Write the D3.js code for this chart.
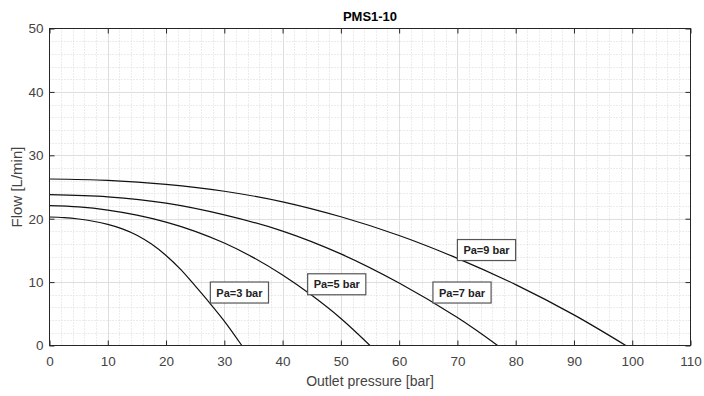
<!DOCTYPE html>
<html><head><meta charset="utf-8">
<script src="https://cdn.jsdelivr.net/npm/d3@7"></script>
<style>
body{margin:0;background:#fff}
svg{display:block}
text{font-family:"Liberation Sans",Arial,Helvetica,sans-serif}
</style>
</head><body>
<svg id="c" width="704" height="396"></svg>
<script>
// ---- data ----
const titleText = "PMS1-10";
const xLabel = "Outlet pressure [bar]";
const yLabel = "Flow [L/min]";
const xTicks = [0,10,20,30,40,50,60,70,80,90,100,110];
const yTicks = [0,10,20,30,40,50];
const xMinor = d3.range(0,111,2);
const yMinor = d3.range(0,51,2);

const pa3X = [0,2.5,5,7.5,10,12.5,15,17.5,20,22.5,25,27.5,30,33];
const pa3Y = [20.27,20.18,19.95,19.6,19.1,18.4,17.4,16.0,14.2,12.0,9.4,6.7,3.85,0];

const pa5X = [0,5,10,15,20,25,30,35,40,45,50,55];
const pa5Y = [22.06,21.86,21.36,20.56,19.46,18.01,16.16,13.86,11.11,7.91,4.26,0];

const pa7X = [0,10,20,30,40,50,60,70,76.9];
const pa7Y = [23.8,23.45,22.45,20.6,18.05,14.45,9.85,4.4,0];

const pa9X = [0,10,20,30,40,50,60,70,80,90,98.9];
const pa9Y = [26.26,26.05,25.42,24.33,22.66,20.3,17.35,13.75,9.6,4.83,0];

const seriesX = [pa3X,pa5X,pa7X,pa9X];
const seriesY = [pa3Y,pa5Y,pa7Y,pa9Y];

const labelText = ["Pa=3 bar","Pa=5 bar","Pa=7 bar","Pa=9 bar"];
const labelX = [27.6,44.3,65.8,70.0];
const labelY = [6.7,8.0,6.7,13.4];

// ---- drawing ----
const svg = d3.select("#c");
const L = 49.5, R = 690.5, T = 28.5, B = 345.5;
const x = d3.scaleLinear().domain([0,110]).range([L,R]);
const y = d3.scaleLinear().domain([0,50]).range([B,T]);

svg.append("rect").attr("width",704).attr("height",396).attr("fill","#fff");

// minor grid
const gMinor = svg.append("g");
gMinor.selectAll("line.mx").data(xMinor.filter(v=>v%10!==0)).join("line")
  .attr("x1",d=>Math.round(x(d))+0.5).attr("x2",d=>Math.round(x(d))+0.5)
  .attr("y1",T).attr("y2",B)
  .attr("stroke","#d8d8d8").attr("stroke-width",1).attr("stroke-dasharray","1,2");
gMinor.selectAll("line.my").data(yMinor.filter(v=>v%10!==0)).join("line")
  .attr("y1",d=>Math.round(y(d))+0.5).attr("y2",d=>Math.round(y(d))+0.5)
  .attr("x1",L).attr("x2",R)
  .attr("stroke","#d8d8d8").attr("stroke-width",1).attr("stroke-dasharray","1,2");

// major grid
const gMajor = svg.append("g");
gMajor.selectAll("line.gx").data(xTicks.slice(1,-1)).join("line")
  .attr("x1",d=>Math.round(x(d))+0.5).attr("x2",d=>Math.round(x(d))+0.5)
  .attr("y1",T).attr("y2",B)
  .attr("stroke","#dedede").attr("stroke-width",1);
gMajor.selectAll("line.gy").data(yTicks.slice(1,-1)).join("line")
  .attr("y1",d=>Math.round(y(d))+0.5).attr("y2",d=>Math.round(y(d))+0.5)
  .attr("x1",L).attr("x2",R)
  .attr("stroke","#dedede").attr("stroke-width",1);

// clip
svg.append("clipPath").attr("id","clip").append("rect")
  .attr("x",L).attr("y",T).attr("width",R-L).attr("height",B-T);

// curves
const line = d3.line().x(d=>x(d[0])).y(d=>y(d[1])).curve(d3.curveCatmullRom.alpha(0.5));
const gCurves = svg.append("g").attr("clip-path","url(#clip)");
seriesX.forEach((xs,i)=>{
  const pts = xs.map((v,j)=>[v,seriesY[i][j]]);
  gCurves.append("path").datum(pts).attr("d",line)
    .attr("fill","none").attr("stroke","#111").attr("stroke-width",1.2);
});

// axes
const tickColor = "#262626";
function styleAxis(g){
  g.select(".domain").remove();
  g.selectAll(".tick line").attr("stroke",tickColor);
  g.selectAll("text").attr("font-size","13.5px").attr("fill","#444")
    .attr("font-family","'Liberation Sans',Arial,sans-serif");
}
svg.append("g").attr("transform",`translate(0,${B})`)
  .call(d3.axisBottom(x).tickValues(xTicks).tickSizeInner(-5).tickSizeOuter(0).tickPadding(11))
  .call(styleAxis);
svg.append("g").attr("transform",`translate(0,${T})`)
  .call(d3.axisTop(x).tickValues(xTicks).tickSizeInner(-5).tickSizeOuter(0).tickFormat(""))
  .call(styleAxis);
svg.append("g").attr("transform",`translate(${L},0)`)
  .call(d3.axisLeft(y).tickValues(yTicks).tickSizeInner(-5).tickSizeOuter(0).tickPadding(6))
  .call(styleAxis);
svg.append("g").attr("transform",`translate(${R},0)`)
  .call(d3.axisRight(y).tickValues(yTicks).tickSizeInner(-5).tickSizeOuter(0).tickFormat(""))
  .call(styleAxis);

// frame
svg.append("rect").attr("x",L).attr("y",T).attr("width",R-L).attr("height",B-T)
  .attr("fill","none").attr("stroke",tickColor).attr("stroke-width",1);

// labels in boxes
const gLab = svg.append("g");
labelText.forEach((t,i)=>{
  const px = x(labelX[i]), py = y(labelY[i]);
  const g = gLab.append("g").attr("transform",`translate(${px},${py})`);
  const txt = g.append("text").text(t).attr("x",6).attr("y",-6.5)
    .attr("font-size","11px").attr("font-weight","bold").attr("fill","#222");
  const w = txt.node().getComputedTextLength() + 12;
  g.insert("rect","text").attr("x",0).attr("y",-21).attr("width",w).attr("height",21)
    .attr("fill","#fff").attr("stroke","#555").attr("stroke-width",1.2);
});

// title and axis labels
svg.append("text").text(titleText).attr("x",(L+R)/2).attr("y",20.5)
  .attr("text-anchor","middle").attr("font-size","13px").attr("font-weight","bold").attr("fill","#000");
svg.append("text").text(xLabel).attr("x",(L+R)/2).attr("y",386)
  .attr("text-anchor","middle").attr("font-size","14px").attr("fill","#444");
svg.append("text").text(yLabel)
  .attr("transform",`translate(22,${(T+B)/2}) rotate(-90)`)
  .attr("text-anchor","middle").attr("font-size","15px").attr("fill","#444");
</script>
</body></html>
